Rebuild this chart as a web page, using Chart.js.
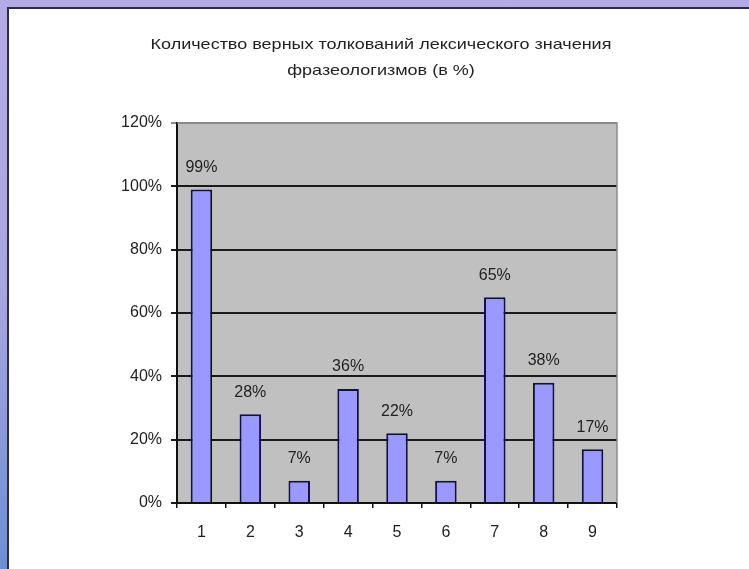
<!DOCTYPE html>
<html>
<head>
<meta charset="utf-8">
<script src="https://cdn.jsdelivr.net/npm/chart.js@4/dist/chart.umd.min.js"></script>
<style>
html,body{margin:0;padding:0;width:749px;height:569px;overflow:hidden;}
body{background:linear-gradient(to bottom,#b3abe6 0%,#a7a6e2 50%,#6e8ed2 100%);position:relative;}
#frame{position:absolute;left:7px;top:7px;width:742px;height:562px;background:#fff;border-left:2px solid #2e2e3e;border-top:2px solid #2e2e3e;box-sizing:border-box;}
#wrap{position:absolute;left:0;top:0;width:749px;height:569px;}
</style>
</head>
<body>
<div id="frame"></div>
<div id="wrap"><canvas id="c" width="749" height="569"></canvas></div>
<script>
const categories = ["1","2","3","4","5","6","7","8","9"];
const values = [99, 28, 7, 36, 22, 7, 65, 38, 17];
const yTicks = [0, 20, 40, 60, 80, 100, 120];
const titleLines = ["Количество верных толкований лексического значения", "фразеологизмов (в %)"];

const FONT = "'Liberation Sans', Arial, sans-serif";

const plotBg = {
  id: 'plotBg',
  beforeDraw(chart) {
    const {ctx, chartArea: a} = chart;
    ctx.save();
    ctx.fillStyle = '#c0c0c0';
    ctx.fillRect(a.left, a.top, a.right - a.left, a.bottom - a.top);
    // title (two centred lines, slightly widened like the original)
    ctx.fillStyle = '#222';
    ctx.font = '15px ' + FONT;
    ctx.textAlign = 'center';
    ctx.textBaseline = 'middle';
    const cx = 381, ys = [45, 71], sx = 1.2;
    titleLines.forEach((t, i) => {
      ctx.save();
      ctx.translate(cx, ys[i]);
      ctx.scale(sx, 1);
      ctx.fillText(t, 0, 0);
      ctx.restore();
    });
    ctx.restore();
  },
  afterDatasetsDraw(chart) {
    const {ctx, chartArea: a} = chart;
    ctx.save();
    ctx.strokeStyle = '#8a8a8a';
    ctx.lineWidth = 1.5;
    ctx.beginPath();
    ctx.moveTo(a.left, a.top);
    ctx.lineTo(a.right, a.top);
    ctx.lineTo(a.right, a.bottom);
    ctx.stroke();
    // value labels
    const meta = chart.getDatasetMeta(0);
    ctx.fillStyle = '#222';
    ctx.font = '16px ' + FONT;
    ctx.textAlign = 'center';
    ctx.textBaseline = 'middle';
    meta.data.forEach((bar, i) => {
      ctx.fillText(values[i] + '%', bar.x, bar.y - 22);
    });
    ctx.restore();
  }
};

new Chart(document.getElementById('c'), {
  type: 'bar',
  data: {
    labels: categories,
    datasets: [{
      data: values,
      backgroundColor: '#9999ff',
      borderColor: '#10104a',
      borderWidth: 2,
      barPercentage: 0.44,
      categoryPercentage: 1.0
    }]
  },
  plugins: [plotBg],
  options: {
    responsive: false,
    animation: false,
    devicePixelRatio: 1,
    layout: { padding: { left: 97, right: 132, top: 123, bottom: 26 } },
    plugins: {
      legend: { display: false },
      tooltip: { enabled: false },
      title: { display: false }
    },
    scales: {
      x: {
        grid: { display: true, drawOnChartArea: false, drawTicks: true, tickLength: 5, color: '#111', lineWidth: 1.5, offset: true },
        border: { display: true, color: '#111', width: 2 },
        ticks: { color: '#222', font: { family: FONT, size: 16 }, padding: 15, maxRotation: 0 },
        afterFit(s) { s.height = 40; }
      },
      y: {
        min: 0, max: 120,
        afterBuildTicks(s) { s.ticks = yTicks.map(v => ({ value: v })); },
        grid: {
          drawTicks: true, tickLength: 6, lineWidth: 2,
          color(ctx) { return ctx.tick && ctx.tick.value === 120 ? '#8a8a8a' : '#1a1a1a'; }
        },
        border: { display: true, color: '#111', width: 2 },
        ticks: { color: '#222', font: { family: FONT, size: 16 }, padding: 9, callback: v => v + '%' },
        afterFit(s) { s.width = 80; }
      }
    }
  }
});
</script>
</body>
</html>
